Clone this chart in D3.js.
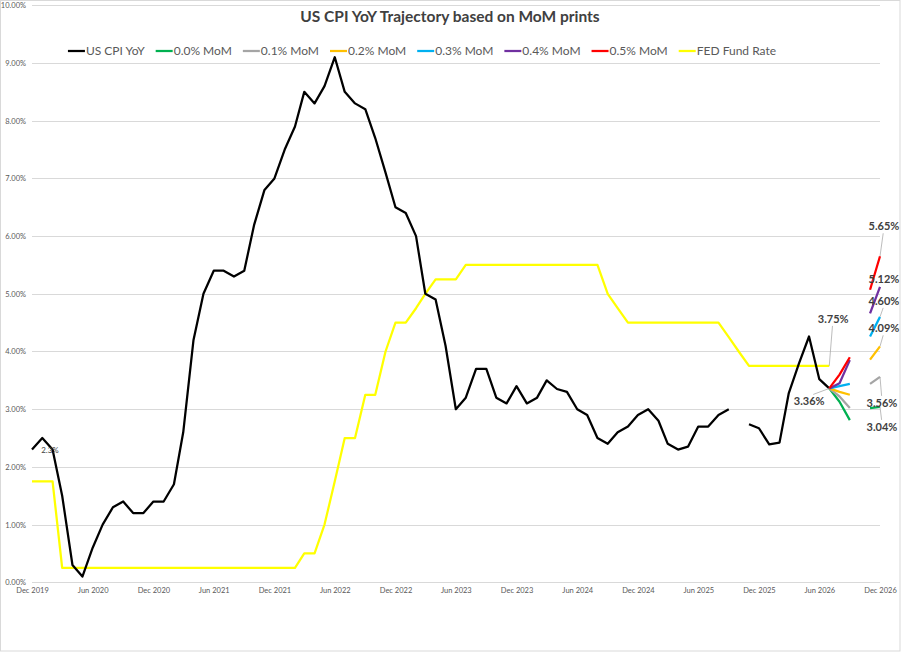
<!DOCTYPE html>
<html>
<head>
<meta charset="utf-8">
<script src="https://cdn.jsdelivr.net/npm/d3@7"></script>
<style>
  body { margin: 0; background: #ffffff; }
  svg { display: block; font-family: Lato, "Open Sans", sans-serif; }
</style>
</head>
<body>
<svg id="chart"></svg>
<script>
// Monthly data, first value = Dec 2019
const firstMonth = new Date(Date.UTC(2019, 11, 1));

// US CPI YoY (%), Dec 2019 .. Jul 2026 (Oct 2025 not published)
const cpiYoY = [
  2.3,
  2.5, 2.3, 1.5, 0.3, 0.1, 0.6, 1.0, 1.3, 1.4, 1.2, 1.2, 1.4,
  1.4, 1.7, 2.6, 4.2, 5.0, 5.4, 5.4, 5.3, 5.4, 6.2, 6.8, 7.0,
  7.5, 7.9, 8.5, 8.3, 8.6, 9.1, 8.5, 8.3, 8.2, 7.7, 7.1, 6.5,
  6.4, 6.0, 5.0, 4.9, 4.1, 3.0, 3.2, 3.7, 3.7, 3.2, 3.1, 3.4,
  3.1, 3.2, 3.5, 3.35, 3.3, 3.0, 2.9, 2.5, 2.4, 2.6, 2.7, 2.9,
  3.0, 2.8, 2.4, 2.3, 2.35, 2.7, 2.7, 2.9, 3.0, null, 2.74, 2.67,
  2.39, 2.42, 3.28, 3.8, 4.26, 3.52, 3.36
];

// FED Fund Rate (upper bound, %), Dec 2019 .. Jul 2026
const fedFundRate = [
  1.75,
  1.75, 1.75, 0.25, 0.25, 0.25, 0.25, 0.25, 0.25, 0.25, 0.25, 0.25, 0.25,
  0.25, 0.25, 0.25, 0.25, 0.25, 0.25, 0.25, 0.25, 0.25, 0.25, 0.25, 0.25,
  0.25, 0.25, 0.5, 0.5, 1.0, 1.75, 2.5, 2.5, 3.25, 3.25, 4.0, 4.5,
  4.5, 4.75, 5.0, 5.25, 5.25, 5.25, 5.5, 5.5, 5.5, 5.5, 5.5, 5.5,
  5.5, 5.5, 5.5, 5.5, 5.5, 5.5, 5.5, 5.5, 5.0, 4.75, 4.5, 4.5,
  4.5, 4.5, 4.5, 4.5, 4.5, 4.5, 4.5, 4.5, 4.25, 4.0, 3.75, 3.75,
  3.75, 3.75, 3.75, 3.75, 3.75, 3.75, 3.75
];

// MoM scenarios: projected YoY for Aug, Sep, (Oct missing), Nov, Dec 2026
const scenarioNames = ["0.0% MoM", "0.1% MoM", "0.2% MoM", "0.3% MoM", "0.4% MoM", "0.5% MoM"];
const scenarioAug = [3.13, 3.22, 3.30, 3.40, 3.45, 3.60];
const scenarioSep = [2.81, 3.02, 3.25, 3.44, 3.85, 3.90];
const scenarioNov = [3.02, 3.44, 3.86, 4.26, 4.66, 5.07];
const scenarioDec = [3.04, 3.56, 4.09, 4.60, 5.12, 5.65];

const yTickValues = [0, 1, 2, 3, 4, 5, 6, 7, 8, 9, 10];

// Styles
const scenarioColors = ["#00b050", "#a5a5a5", "#ffc000", "#00b0f0", "#7030a0", "#ff0000"];
const cpiColor = "#000000";
const fedColor = "#ffff00";
// where the end labels sit relative to their point [dx, dy]
const scenarioLabelOffsets = [[2, 20], [2, 26], [4, -18], [4, -16], [4, -8], [4, -30]];

const width = 903;
const height = 655;

const svg = d3.select("#chart")
  .attr("width", width)
  .attr("height", height);

// Chart border
svg.append("rect")
  .attr("x", 0.5).attr("y", 0.5)
  .attr("width", 899.5).attr("height", 650.5)
  .attr("fill", "#ffffff")
  .attr("stroke", "#d9d9d9");

const months = d3.utcMonth.range(firstMonth, d3.utcMonth.offset(firstMonth, cpiYoY.length));
const lastMonth = d3.utcMonth.offset(firstMonth, 84);

const x = d3.scaleUtc().domain([firstMonth, lastMonth]).range([32, 880]);
const y = d3.scaleLinear().domain([0, 10]).range([582.3, 5.3]);

// Gridlines
svg.append("g")
  .selectAll("line")
  .data(yTickValues)
  .join("line")
  .attr("x1", 32).attr("x2", 880)
  .attr("y1", d => Math.round(y(d)) + 0.5)
  .attr("y2", d => Math.round(y(d)) + 0.5)
  .attr("stroke", "#d9d9d9")
  .attr("stroke-width", 1);

// Y axis labels
const yAxis = svg.append("g")
  .attr("transform", "translate(26,0)")
  .call(d3.axisLeft(y).tickValues(yTickValues).tickSize(0).tickPadding(0)
    .tickFormat(d => d3.format(".2f")(d) + "%"));
yAxis.select(".domain").remove();
yAxis.selectAll("text")
  .attr("fill", "#595959")
  .style("font-size", "7.5px")
  .style("font-family", "Lato, sans-serif");

// X axis labels: every 6 months from Dec 2019
const xTickValues = d3.utcMonth.range(firstMonth, d3.utcDay.offset(lastMonth, 1))
  .filter((d, i) => i % 6 === 0);
const xAxis = svg.append("g")
  .attr("transform", "translate(0,588)")
  .call(d3.axisBottom(x).tickValues(xTickValues)
    .tickSize(0).tickPadding(0).tickFormat(d3.utcFormat("%b %Y")));
xAxis.select(".domain").remove();
xAxis.selectAll("text")
  .attr("fill", "#595959")
  .style("font-size", "7.5px")
  .style("font-family", "Lato, sans-serif");

const line = d3.line()
  .defined(d => d.v != null)
  .x(d => x(d.date))
  .y(d => y(d.v));

const cpiData = cpiYoY.map((v, i) => ({ date: months[i], v }));
const fedData = fedFundRate.map((v, i) => ({ date: months[i], v }));
const lastCpi = cpiData[cpiData.length - 1];

// FED Fund Rate
svg.append("path")
  .datum(fedData)
  .attr("d", line)
  .attr("fill", "none")
  .attr("stroke", fedColor)
  .attr("stroke-width", 2.25)
  .attr("stroke-linejoin", "round");

// US CPI YoY
svg.append("path")
  .datum(cpiData)
  .attr("d", line)
  .attr("fill", "none")
  .attr("stroke", cpiColor)
  .attr("stroke-width", 2.25)
  .attr("stroke-linejoin", "round");

// Scenario fans
const scenarios = scenarioNames.map((name, i) => ({
  name,
  color: scenarioColors[i],
  offset: scenarioLabelOffsets[i],
  values: [
    { date: lastCpi.date, v: lastCpi.v },
    { date: d3.utcMonth.offset(lastCpi.date, 1), v: scenarioAug[i] },
    { date: d3.utcMonth.offset(lastCpi.date, 2), v: scenarioSep[i] },
    { date: d3.utcMonth.offset(lastCpi.date, 3), v: null },
    { date: d3.utcMonth.offset(lastCpi.date, 4), v: scenarioNov[i] },
    { date: d3.utcMonth.offset(lastCpi.date, 5), v: scenarioDec[i] }
  ]
}));

svg.append("g")
  .selectAll("path")
  .data(scenarios)
  .join("path")
  .attr("d", d => line(d.values))
  .attr("fill", "none")
  .attr("stroke", d => d.color)
  .attr("stroke-width", 2.25)
  .attr("stroke-linejoin", "round");

// Data labels
const labelFmt = v => d3.format(".2f")(v) + "%";
const dataLabels = [
  ...scenarios.map(s => {
    const p = s.values[s.values.length - 1];
    return { px: x(p.date), py: y(p.v), dx: s.offset[0], dy: s.offset[1], text: labelFmt(p.v) };
  }),
  { px: x(fedData[fedData.length - 1].date), py: y(fedData[fedData.length - 1].v), dx: 4, dy: -47,
    text: labelFmt(fedData[fedData.length - 1].v) },
  { px: x(lastCpi.date), py: y(lastCpi.v), dx: -20, dy: 13, text: labelFmt(lastCpi.v) }
];

// leader lines
svg.append("g")
  .selectAll("line")
  .data(dataLabels.filter(d => Math.abs(d.dy) > 12))
  .join("line")
  .attr("x1", d => d.px)
  .attr("y1", d => d.py)
  .attr("x2", d => d.px + d.dx * 0.8)
  .attr("y2", d => d.py + d.dy - Math.sign(d.dy) * 7)
  .attr("stroke", "#a6a6a6")
  .attr("stroke-width", 0.75);

svg.append("g")
  .selectAll("text")
  .data(dataLabels)
  .join("text")
  .attr("x", d => d.px + d.dx)
  .attr("y", d => d.py + d.dy)
  .attr("dy", "0.35em")
  .attr("text-anchor", "middle")
  .attr("fill", "#404040")
  .style("font-size", "11px")
  .style("font-weight", "bold")
  .text(d => d.text);

// first point label
svg.append("text")
  .attr("x", x(cpiData[0].date) + 18)
  .attr("y", y(cpiData[0].v) + 1)
  .attr("dy", "0.35em")
  .attr("text-anchor", "middle")
  .attr("fill", "#404040")
  .style("font-size", "8px")
  .text(d3.format(".1f")(cpiData[0].v) + "%");

// Title
svg.append("text")
  .attr("x", 450)
  .attr("y", 22)
  .attr("text-anchor", "middle")
  .attr("fill", "#404040")
  .style("font-size", "15.5px")
  .style("font-weight", "bold")
  .text("US CPI YoY Trajectory based on MoM prints");

// Legend
const legendItems = [
  { name: "US CPI YoY", color: cpiColor },
  ...scenarios.map(s => ({ name: s.name, color: s.color })),
  { name: "FED Fund Rate", color: fedColor }
];
const legend = svg.append("g");
let cursor = 0;
legendItems.forEach(d => {
  const g = legend.append("g").attr("transform", `translate(${cursor},0)`);
  g.append("line")
    .attr("x1", 0).attr("x2", 17)
    .attr("y1", 0).attr("y2", 0)
    .attr("stroke", d.color)
    .attr("stroke-width", 2.25);
  const t = g.append("text")
    .attr("x", 18)
    .attr("dy", "0.35em")
    .attr("fill", "#595959")
    .style("font-size", "12px")
    .text(d.name);
  cursor += 18 + t.node().getComputedTextLength() + 11;
});
legend.attr("transform", `translate(${422 - (cursor - 11) / 2},51)`);
</script>
</body>
</html>
